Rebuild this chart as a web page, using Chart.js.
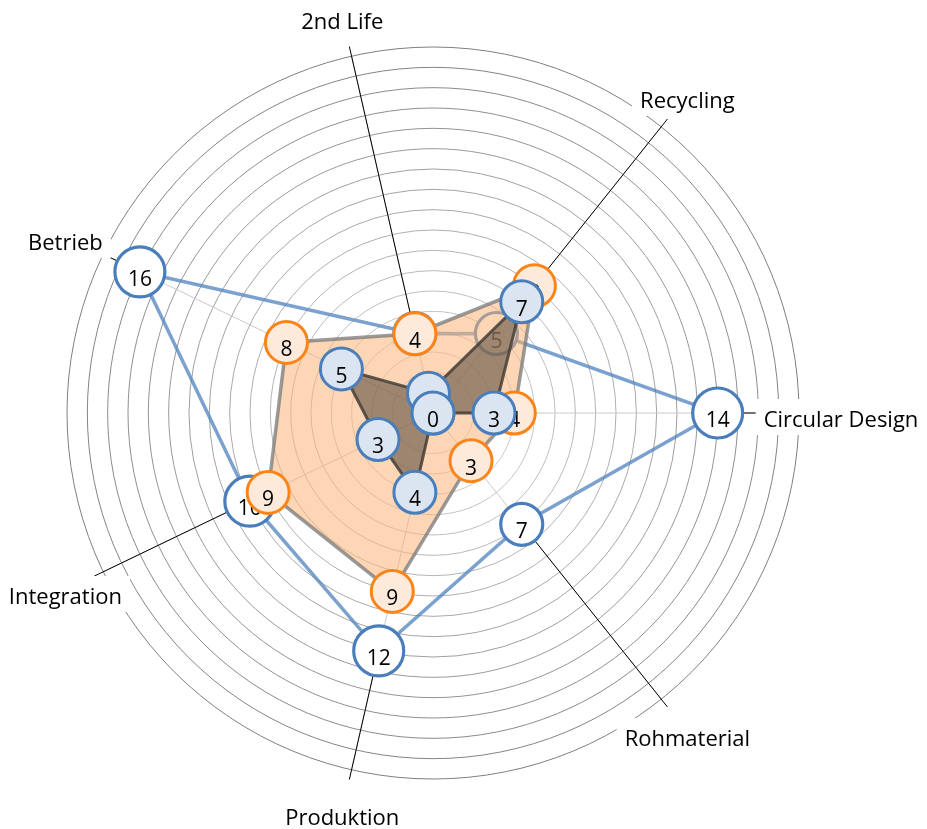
<!DOCTYPE html>
<html>
<head>
<meta charset="utf-8">
<script src="https://cdn.jsdelivr.net/npm/chart.js@4.4.0/dist/chart.umd.min.js"></script>
<style>
  html, body { margin: 0; padding: 0; background: #fff; }
  canvas { display: block; }
</style>
</head>
<body>
<canvas id="radar" width="927" height="829"></canvas>
<script>
// Kategorien, im Uhrzeigersinn ab rechts
const categories = ['Circular Design', 'Rohmaterial', 'Produktion', 'Integration', 'Betrieb', '2nd Life', 'Recycling'];

// Werte je Reihe
const valuesOutline = [14, 7, 12, 10, 16, 4, 5];
const valuesOrange = [4, 3, 9, 9, 8, 4, 8];
const valuesDark = [3, 0, 4, 3, 5, 1, 7];

// Skala: ein Ring pro Einheit
const scaleMax = 18;
const scaleStep = 1;

const labelFont = '22px "Open Sans"';
const valueFont = '21px "Open Sans"';

// Kreis passt sich der Zahl an (zweistellig = groesser)
const bubble = (c) => String(c.raw).length > 1 ? 25 : 21;

// Achsenbeschriftung mit Führungslinie und weissem Hintergrund
const axisLabels = {
  id: 'axisLabels',
  beforeDatasetsDraw(chart) {
    const r = chart.scales.r;
    const ctx = chart.ctx;
    ctx.save();
    ctx.font = labelFont;
    categories.forEach((name, i) => {
      const top = Math.max(...chart.data.datasets.map(d => d.data[i]));
      const from = r.getPointPositionForValue(i, top);
      const to = r.getPointPosition(i, r.drawingArea + 10);
      ctx.strokeStyle = '#000';
      ctx.lineWidth = 1;
      ctx.beginPath();
      ctx.moveTo(from.x, from.y);
      ctx.lineTo(to.x, to.y);
      ctx.stroke();

      const at = r.getPointPosition(i, r.drawingArea + 42);
      const w = ctx.measureText(name).width;
      const base = at.y + 14;
      ctx.fillStyle = '#fff';
      ctx.fillRect(at.x - w / 2 - 8, base - 28, w + 16, 36);
      ctx.fillStyle = '#000';
      ctx.textAlign = 'center';
      ctx.textBaseline = 'alphabetic';
      ctx.fillText(name, at.x, base);
    });
    ctx.restore();
  }
};

// Zahlen in den Punkten, direkt nach jeder Reihe gezeichnet
const valueLabels = {
  id: 'valueLabels',
  afterDatasetDraw(chart, args) {
    const ctx = chart.ctx;
    const ds = chart.data.datasets[args.index];
    const meta = args.meta;
    const onTop = ds.onTop || [];
    const order = ds.data.map((v, i) => i).filter(i => !onTop.includes(i)).concat(onTop);
    ctx.save();
    ctx.font = valueFont;
    ctx.textAlign = 'center';
    ctx.textBaseline = 'alphabetic';
    order.forEach(i => {
      const pt = meta.data[i];
      if (onTop.includes(i)) pt.draw(ctx, chart.chartArea);
      ctx.fillStyle = '#000';
      ctx.fillText(String(ds.data[i]), pt.x, pt.y + 14);
    });
    ctx.restore();
  }
};

new Chart(document.getElementById('radar'), {
  type: 'radar',
  data: {
    labels: categories,
    datasets: [
      {
        label: 'Gesamt',
        data: valuesOutline,
        order: 2,
        fill: false,
        borderColor: 'rgba(79,129,189,0.75)',
        borderWidth: 3.5,
        pointRadius: bubble,
        pointBorderWidth: 3.2,
        pointBackgroundColor: '#ffffff',
        pointBorderColor: '#4a7ebb'
      },
      {
        label: 'Orange',
        data: valuesOrange,
        order: 1,
        fill: true,
        backgroundColor: 'rgba(249,180,120,0.55)',
        borderColor: 'rgba(120,120,120,0.75)',
        borderWidth: 3.5,
        pointRadius: bubble,
        pointBorderWidth: 3,
        pointBackgroundColor: '#fdeada',
        pointBorderColor: '#fb8419'
      },
      {
        label: 'Dunkel',
        data: valuesDark,
        order: 0,
        onTop: [1],
        fill: true,
        backgroundColor: 'rgba(95,80,66,0.6)',
        borderColor: 'rgba(70,62,55,0.85)',
        borderWidth: 3,
        pointRadius: bubble,
        pointBorderWidth: 3,
        pointBackgroundColor: '#dbe4f1',
        pointBorderColor: '#4a7ebb'
      }
    ]
  },
  options: {
    responsive: false,
    animation: false,
    layout: { padding: { left: 67, right: 128, top: 47, bottom: 50 } },
    plugins: {
      legend: { display: false },
      tooltip: { enabled: false }
    },
    elements: { line: { tension: 0 } },
    scales: {
      r: {
        min: 0,
        max: scaleMax,
        startAngle: 90,
        ticks: { display: false, stepSize: scaleStep },
        pointLabels: { display: false },
        grid: {
          circular: true,
          lineWidth: 1,
          color: (c) => {
            const v = c.tick ? c.tick.value : 0;
            const g = Math.round(222 - 95 * v / scaleMax);
            return `rgb(${g},${g},${g})`;
          }
        },
        angleLines: { color: '#c9c9c9', lineWidth: 1 }
      }
    }
  },
  plugins: [axisLabels, valueLabels]
});
</script>
</body>
</html>
